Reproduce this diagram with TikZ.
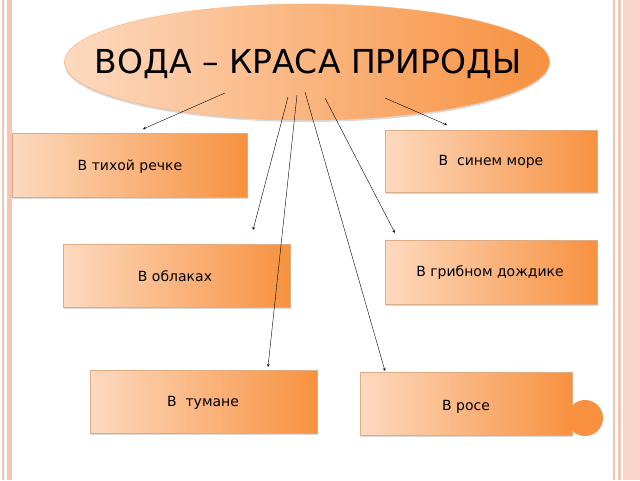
\documentclass[tikz,border=0pt]{standalone}
\usepackage{fontspec}
\setmainfont{DejaVu Sans}
\usetikzlibrary{shadows,shapes.geometric}
\definecolor{lo}{HTML}{FDD9BF}
\definecolor{ro}{HTML}{F7913F}
\definecolor{stripe}{HTML}{F9C3B2}
\begin{document}
\begin{tikzpicture}[x=1pt,y=-1pt,
  box/.style={draw=ro!80!black!60,left color=lo,right color=ro,shading angle=90,general shadow={shadow xshift=1pt,shadow yshift=-2pt,fill=black!15}},
  lbl/.style={font=\fontsize{14}{16}\selectfont},
  arr/.style={-stealth,thin}]
\useasboundingbox (0,0) rectangle (640,480);
\fill[stripe] (2,0) rectangle (4,480);
\fill[stripe] (7,0) rectangle (12,480);
\fill[stripe] (613,0) rectangle (615,480);
\fill[stripe] (618,0) rectangle (621,480);
\fill[stripe!70] (623,0) rectangle (640,480);
\node[ellipse,draw=ro!70,left color=lo,right color=ro,minimum width=485,minimum height=116,inner sep=0,general shadow={shadow yshift=-2pt,fill=black!15}] (t) at (307,62) {};
\node[font=\fontsize{33}{36}\selectfont] (tt) at (308,64) {ВОДА – КРАСА ПРИРОДЫ};
\node[box,minimum width=235,minimum height=64] (a) at (129.5,165) {};
\node[lbl] at (130,167) {В тихой речке};
\node[box,minimum width=212,minimum height=62] (b) at (491,161) {};
\node[lbl] at (491,162) {В\ \ синем море};
\node[box,minimum width=227,minimum height=63] (c) at (176.5,275.5) {};
\node[lbl] at (175,276) {В облаках};
\node[box,minimum width=212,minimum height=64] (d) at (491,272) {};
\node[lbl] at (490,273) {В грибном дождике};
\node[box,minimum width=227,minimum height=63] (e) at (203.5,401.5) {};
\node[lbl] at (203,403) {В\ \ тумане};
\node[box,minimum width=212,minimum height=63] (f) at (466,403.5) {};
\node[lbl] at (466,407) {В росе};
\fill[ro] (585,418) circle (18);
\coordinate (s1) at (225,93); \coordinate (e1) at (143,129);
\coordinate (s2) at (385,98); \coordinate (e2) at (447,125);
\coordinate (s3) at (288,97); \coordinate (e3) at (253,230);
\coordinate (s4) at (297,95); \coordinate (e4) at (268,367);
\coordinate (s5) at (305,92); \coordinate (e5) at (385,371);
\coordinate (s6) at (325,98); \coordinate (e6) at (395,233);
\foreach \i in {1,...,6} \draw[arr] (s\i) -- (e\i);
\end{tikzpicture}
\end{document}
